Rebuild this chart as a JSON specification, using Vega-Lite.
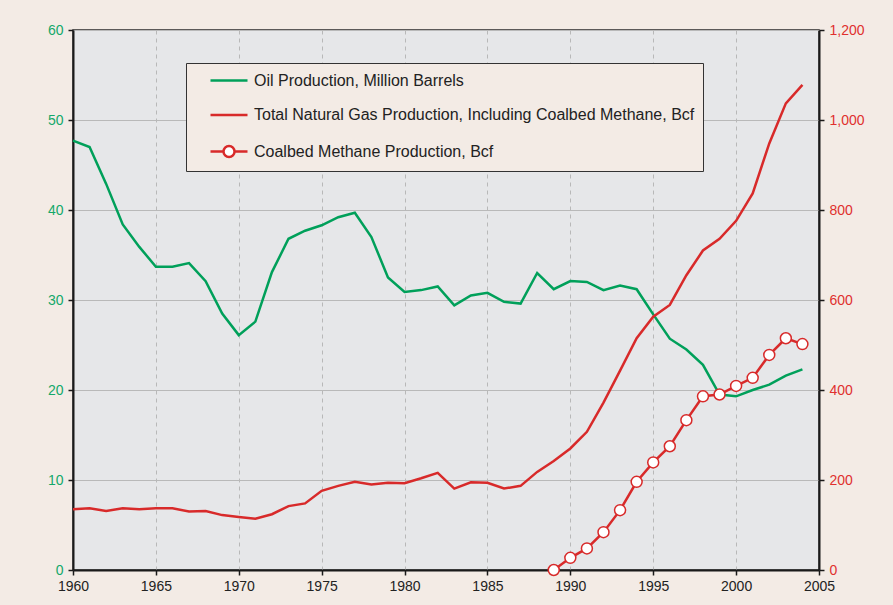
{
  "$schema": "https://vega.github.io/schema/vega-lite/v6.json",
  "width": 746,
  "height": 540,
  "autosize": {"type": "none"},
  "padding": {"left": 73, "top": 30, "right": 74, "bottom": 35},
  "background": "#f3ebe5",
  "config": {
    "view": {"fill": "#e6e7e9", "stroke": "#2a2a2a", "strokeWidth": 1.5},
    "font": "Liberation Sans",
    "axis": {"labelFont": "Liberation Sans", "labelFontSize": 14, "domainColor": "#1a1a1a", "domainWidth": 2, "tickColor": "#1a1a1a", "tickWidth": 1.5, "tickSize": 5, "labelPadding": 5, "labelFlush": false, "title": null}
  },
  "data": {
    "values": [
      {"year": 1960, "series": "Oil Production, Million Barrels", "value": 47.7},
      {"year": 1961, "series": "Oil Production, Million Barrels", "value": 47.0},
      {"year": 1962, "series": "Oil Production, Million Barrels", "value": 42.9},
      {"year": 1963, "series": "Oil Production, Million Barrels", "value": 38.4},
      {"year": 1964, "series": "Oil Production, Million Barrels", "value": 35.9},
      {"year": 1965, "series": "Oil Production, Million Barrels", "value": 33.7},
      {"year": 1966, "series": "Oil Production, Million Barrels", "value": 33.7},
      {"year": 1967, "series": "Oil Production, Million Barrels", "value": 34.1},
      {"year": 1968, "series": "Oil Production, Million Barrels", "value": 32.1},
      {"year": 1969, "series": "Oil Production, Million Barrels", "value": 28.5},
      {"year": 1970, "series": "Oil Production, Million Barrels", "value": 26.1},
      {"year": 1971, "series": "Oil Production, Million Barrels", "value": 27.6},
      {"year": 1972, "series": "Oil Production, Million Barrels", "value": 33.1},
      {"year": 1973, "series": "Oil Production, Million Barrels", "value": 36.8},
      {"year": 1974, "series": "Oil Production, Million Barrels", "value": 37.7},
      {"year": 1975, "series": "Oil Production, Million Barrels", "value": 38.3},
      {"year": 1976, "series": "Oil Production, Million Barrels", "value": 39.2},
      {"year": 1977, "series": "Oil Production, Million Barrels", "value": 39.7},
      {"year": 1978, "series": "Oil Production, Million Barrels", "value": 37.0},
      {"year": 1979, "series": "Oil Production, Million Barrels", "value": 32.5},
      {"year": 1980, "series": "Oil Production, Million Barrels", "value": 30.9},
      {"year": 1981, "series": "Oil Production, Million Barrels", "value": 31.1},
      {"year": 1982, "series": "Oil Production, Million Barrels", "value": 31.5},
      {"year": 1983, "series": "Oil Production, Million Barrels", "value": 29.4},
      {"year": 1984, "series": "Oil Production, Million Barrels", "value": 30.5},
      {"year": 1985, "series": "Oil Production, Million Barrels", "value": 30.8},
      {"year": 1986, "series": "Oil Production, Million Barrels", "value": 29.8},
      {"year": 1987, "series": "Oil Production, Million Barrels", "value": 29.6},
      {"year": 1988, "series": "Oil Production, Million Barrels", "value": 33.0},
      {"year": 1989, "series": "Oil Production, Million Barrels", "value": 31.2},
      {"year": 1990, "series": "Oil Production, Million Barrels", "value": 32.1},
      {"year": 1991, "series": "Oil Production, Million Barrels", "value": 32.0},
      {"year": 1992, "series": "Oil Production, Million Barrels", "value": 31.1},
      {"year": 1993, "series": "Oil Production, Million Barrels", "value": 31.6},
      {"year": 1994, "series": "Oil Production, Million Barrels", "value": 31.2},
      {"year": 1995, "series": "Oil Production, Million Barrels", "value": 28.4},
      {"year": 1996, "series": "Oil Production, Million Barrels", "value": 25.7},
      {"year": 1997, "series": "Oil Production, Million Barrels", "value": 24.5},
      {"year": 1998, "series": "Oil Production, Million Barrels", "value": 22.8},
      {"year": 1999, "series": "Oil Production, Million Barrels", "value": 19.5},
      {"year": 2000, "series": "Oil Production, Million Barrels", "value": 19.3},
      {"year": 2001, "series": "Oil Production, Million Barrels", "value": 20.0},
      {"year": 2002, "series": "Oil Production, Million Barrels", "value": 20.6},
      {"year": 2003, "series": "Oil Production, Million Barrels", "value": 21.6},
      {"year": 2004, "series": "Oil Production, Million Barrels", "value": 22.3},
      {"year": 1960, "series": "Total Natural Gas Production, Including Coalbed Methane, Bcf", "value": 135},
      {"year": 1961, "series": "Total Natural Gas Production, Including Coalbed Methane, Bcf", "value": 137},
      {"year": 1962, "series": "Total Natural Gas Production, Including Coalbed Methane, Bcf", "value": 131},
      {"year": 1963, "series": "Total Natural Gas Production, Including Coalbed Methane, Bcf", "value": 137},
      {"year": 1964, "series": "Total Natural Gas Production, Including Coalbed Methane, Bcf", "value": 135},
      {"year": 1965, "series": "Total Natural Gas Production, Including Coalbed Methane, Bcf", "value": 137},
      {"year": 1966, "series": "Total Natural Gas Production, Including Coalbed Methane, Bcf", "value": 137},
      {"year": 1967, "series": "Total Natural Gas Production, Including Coalbed Methane, Bcf", "value": 130},
      {"year": 1968, "series": "Total Natural Gas Production, Including Coalbed Methane, Bcf", "value": 131},
      {"year": 1969, "series": "Total Natural Gas Production, Including Coalbed Methane, Bcf", "value": 122},
      {"year": 1970, "series": "Total Natural Gas Production, Including Coalbed Methane, Bcf", "value": 118},
      {"year": 1971, "series": "Total Natural Gas Production, Including Coalbed Methane, Bcf", "value": 114},
      {"year": 1972, "series": "Total Natural Gas Production, Including Coalbed Methane, Bcf", "value": 124},
      {"year": 1973, "series": "Total Natural Gas Production, Including Coalbed Methane, Bcf", "value": 142},
      {"year": 1974, "series": "Total Natural Gas Production, Including Coalbed Methane, Bcf", "value": 148},
      {"year": 1975, "series": "Total Natural Gas Production, Including Coalbed Methane, Bcf", "value": 176},
      {"year": 1976, "series": "Total Natural Gas Production, Including Coalbed Methane, Bcf", "value": 187},
      {"year": 1977, "series": "Total Natural Gas Production, Including Coalbed Methane, Bcf", "value": 196},
      {"year": 1978, "series": "Total Natural Gas Production, Including Coalbed Methane, Bcf", "value": 190},
      {"year": 1979, "series": "Total Natural Gas Production, Including Coalbed Methane, Bcf", "value": 194},
      {"year": 1980, "series": "Total Natural Gas Production, Including Coalbed Methane, Bcf", "value": 193},
      {"year": 1981, "series": "Total Natural Gas Production, Including Coalbed Methane, Bcf", "value": 204},
      {"year": 1982, "series": "Total Natural Gas Production, Including Coalbed Methane, Bcf", "value": 216},
      {"year": 1983, "series": "Total Natural Gas Production, Including Coalbed Methane, Bcf", "value": 181},
      {"year": 1984, "series": "Total Natural Gas Production, Including Coalbed Methane, Bcf", "value": 195},
      {"year": 1985, "series": "Total Natural Gas Production, Including Coalbed Methane, Bcf", "value": 194},
      {"year": 1986, "series": "Total Natural Gas Production, Including Coalbed Methane, Bcf", "value": 181},
      {"year": 1987, "series": "Total Natural Gas Production, Including Coalbed Methane, Bcf", "value": 187},
      {"year": 1988, "series": "Total Natural Gas Production, Including Coalbed Methane, Bcf", "value": 218},
      {"year": 1989, "series": "Total Natural Gas Production, Including Coalbed Methane, Bcf", "value": 242},
      {"year": 1990, "series": "Total Natural Gas Production, Including Coalbed Methane, Bcf", "value": 270},
      {"year": 1991, "series": "Total Natural Gas Production, Including Coalbed Methane, Bcf", "value": 307},
      {"year": 1992, "series": "Total Natural Gas Production, Including Coalbed Methane, Bcf", "value": 372},
      {"year": 1993, "series": "Total Natural Gas Production, Including Coalbed Methane, Bcf", "value": 443},
      {"year": 1994, "series": "Total Natural Gas Production, Including Coalbed Methane, Bcf", "value": 515},
      {"year": 1995, "series": "Total Natural Gas Production, Including Coalbed Methane, Bcf", "value": 563},
      {"year": 1996, "series": "Total Natural Gas Production, Including Coalbed Methane, Bcf", "value": 589},
      {"year": 1997, "series": "Total Natural Gas Production, Including Coalbed Methane, Bcf", "value": 655},
      {"year": 1998, "series": "Total Natural Gas Production, Including Coalbed Methane, Bcf", "value": 710},
      {"year": 1999, "series": "Total Natural Gas Production, Including Coalbed Methane, Bcf", "value": 736},
      {"year": 2000, "series": "Total Natural Gas Production, Including Coalbed Methane, Bcf", "value": 776},
      {"year": 2001, "series": "Total Natural Gas Production, Including Coalbed Methane, Bcf", "value": 837},
      {"year": 2002, "series": "Total Natural Gas Production, Including Coalbed Methane, Bcf", "value": 948},
      {"year": 2003, "series": "Total Natural Gas Production, Including Coalbed Methane, Bcf", "value": 1037},
      {"year": 2004, "series": "Total Natural Gas Production, Including Coalbed Methane, Bcf", "value": 1078},
      {"year": 1989, "series": "Coalbed Methane Production, Bcf", "value": 0},
      {"year": 1990, "series": "Coalbed Methane Production, Bcf", "value": 27},
      {"year": 1991, "series": "Coalbed Methane Production, Bcf", "value": 48},
      {"year": 1992, "series": "Coalbed Methane Production, Bcf", "value": 84},
      {"year": 1993, "series": "Coalbed Methane Production, Bcf", "value": 133},
      {"year": 1994, "series": "Coalbed Methane Production, Bcf", "value": 196},
      {"year": 1995, "series": "Coalbed Methane Production, Bcf", "value": 239},
      {"year": 1996, "series": "Coalbed Methane Production, Bcf", "value": 275},
      {"year": 1997, "series": "Coalbed Methane Production, Bcf", "value": 333},
      {"year": 1998, "series": "Coalbed Methane Production, Bcf", "value": 386},
      {"year": 1999, "series": "Coalbed Methane Production, Bcf", "value": 390},
      {"year": 2000, "series": "Coalbed Methane Production, Bcf", "value": 409},
      {"year": 2001, "series": "Coalbed Methane Production, Bcf", "value": 427},
      {"year": 2002, "series": "Coalbed Methane Production, Bcf", "value": 478},
      {"year": 2003, "series": "Coalbed Methane Production, Bcf", "value": 515},
      {"year": 2004, "series": "Coalbed Methane Production, Bcf", "value": 502}
    ]
  },
  "layer": [
    {
      "transform": [{"filter": "datum.series == 'Oil Production, Million Barrels'"}],
      "mark": {"type": "line", "strokeWidth": 2.5},
      "encoding": {
        "x": {"field": "year", "type": "quantitative", "scale": {"domain": [1960, 2005], "nice": false, "zero": false},
          "axis": {"values": [1960, 1965, 1970, 1975, 1980, 1985, 1990, 1995, 2000, 2005], "format": "d", "labelColor": "#222222", "grid": true, "gridColor": "#b8b8b8", "gridDash": [4, 4], "gridWidth": 1, "labelPadding": 4, "labelFlush": false}},
        "y": {"field": "value", "type": "quantitative", "scale": {"domain": [0, 60], "nice": false},
          "axis": {"orient": "left", "values": [0, 10, 20, 30, 40, 50, 60], "labelColor": "#14a86a", "grid": true, "gridColor": "#b9b9b9", "gridWidth": 1, "labelFlush": false}},
        "color": {"field": "series", "type": "nominal",
          "scale": {"domain": ["Oil Production, Million Barrels", "Total Natural Gas Production, Including Coalbed Methane, Bcf", "Coalbed Methane Production, Bcf"], "range": ["#00a05a", "#d82a2a", "#d82a2a"]},
          "legend": {"title": null, "orient": "none", "legendX": 113, "legendY": 33, "direction": "vertical",
            "fillColor": "#f3ebe5", "strokeColor": "#333333", "padding": 8, "rowPadding": 16.5,
            "symbolSize": 256, "symbolStrokeWidth": 2.5, "labelOffset": 41, "labelFont": "Liberation Sans", "labelFontSize": 16, "labelColor": "#222222", "labelLimit": 600,
            "encode": {"symbols": {"update": {"fill": {"value": "#ffffff"}, "fillOpacity": {"value": 1}, "strokeWidth": {"value": 2.5},
              "shape": {"signal": "datum.value == 'Coalbed Methane Production, Bcf' ? 'M0.875,0H2.5M3.88,0H5.5M3.88,0A0.69,0.69 0 1 1 2.5,0A0.69,0.69 0 1 1 3.88,0Z' : 'M0.875,0H5.5'"}}}}}
        }
      }
    },
    {
      "transform": [{"filter": "datum.series != 'Oil Production, Million Barrels'"}],
      "mark": {"type": "line", "strokeWidth": 2.5},
      "encoding": {
        "x": {"field": "year", "type": "quantitative"},
        "y": {"field": "value", "type": "quantitative", "scale": {"domain": [0, 1200], "nice": false},
          "axis": {"orient": "right", "values": [0, 200, 400, 600, 800, 1000, 1200], "format": ",.0f", "labelColor": "#e0302e", "grid": false, "labelFlush": false}},
        "color": {"field": "series", "type": "nominal"},
        "detail": {"field": "series"}
      }
    },
    {
      "transform": [{"filter": "datum.series == 'Coalbed Methane Production, Bcf'"}],
      "mark": {"type": "point", "shape": "circle", "size": 120, "filled": false, "fill": "#ffffff", "fillOpacity": 1, "stroke": "#d82a2a", "strokeWidth": 1.5, "opacity": 1},
      "encoding": {
        "x": {"field": "year", "type": "quantitative"},
        "y": {"field": "value", "type": "quantitative", "scale": {"domain": [0, 1200], "nice": false}, "axis": null}
      }
    }
  ],
  "resolve": {"scale": {"y": "independent"}}
}
